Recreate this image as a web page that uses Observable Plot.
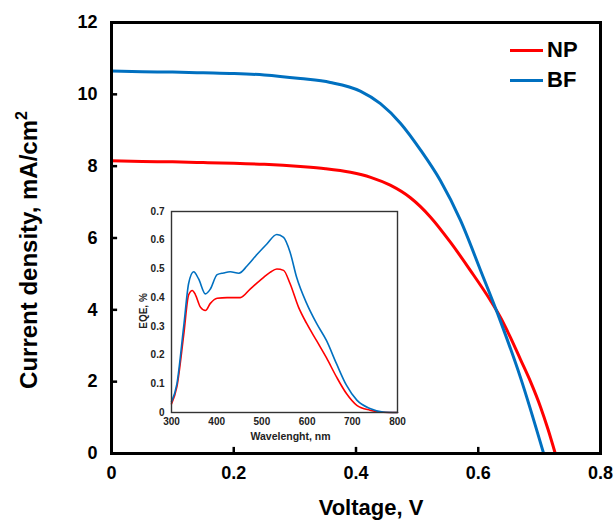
<!DOCTYPE html>
<html>
<head>
<meta charset="utf-8">
<script src="https://cdn.jsdelivr.net/npm/d3@7"></script>
<script src="https://cdn.jsdelivr.net/npm/@observablehq/plot@0.6"></script>
<style>
  html, body { margin: 0; padding: 0; background: #fff; }
  #wrap { position: relative; width: 615px; height: 524px; font-family: "Liberation Sans", Arial, sans-serif; }
  #inset { position: absolute; left: 130px; top: 200px; }
  .leg { position: absolute; font-weight: bold; font-size: 22px; line-height: 22px; color: #000; }
  .leg span.bar { display: inline-block; width: 33px; height: 3px; vertical-align: middle; margin-right: 4px; position: relative; top: -1px; }
</style>
</head>
<body>
<div id="wrap"></div>
<script>
// ---- Main J-V data ----
const seriesNames = ["NP", "BF"];
const seriesColors = ["#ff0000", "#0070c0"];
const vNP = [0, 0.05, 0.1, 0.15, 0.2, 0.25, 0.309, 0.35, 0.391, 0.424, 0.456, 0.489, 0.522, 0.555, 0.587, 0.62, 0.636, 0.653, 0.669, 0.686, 0.702, 0.714, 0.726];
const jNP = [8.15, 8.13, 8.12, 8.10, 8.08, 8.05, 7.99, 7.93, 7.83, 7.69, 7.47, 7.12, 6.58, 5.87, 5.10, 4.26, 3.80, 3.22, 2.62, 1.98, 1.29, 0.68, 0];
const vBF = [0, 0.05, 0.1, 0.15, 0.2, 0.25, 0.309, 0.358, 0.407, 0.44, 0.473, 0.506, 0.538, 0.571, 0.604, 0.636, 0.669, 0.707];
const jBF = [10.65, 10.63, 10.62, 10.60, 10.58, 10.54, 10.44, 10.33, 10.09, 9.74, 9.19, 8.44, 7.60, 6.49, 5.09, 3.70, 2.12, 0];
const xTicks = [0, 0.2, 0.4, 0.6, 0.8];
const yTicks = [0, 2, 4, 6, 8, 10, 12];

// ---- Inset EQE data ----
const wlNP = [300, 312, 327, 338, 346, 353, 364, 375, 386, 401, 423, 434, 452, 474, 496, 518, 533, 548, 562, 581, 599, 621, 643, 665, 687, 710, 739, 768, 800];
const eqeNP = [0.03, 0.09, 0.27, 0.41, 0.425, 0.41, 0.367, 0.355, 0.38, 0.398, 0.40, 0.40, 0.40, 0.43, 0.46, 0.488, 0.50, 0.495, 0.45, 0.367, 0.31, 0.25, 0.19, 0.124, 0.066, 0.025, 0.008, 0.001, 0];
const wlBF = [300, 312, 327, 338, 349, 360, 375, 386, 401, 415, 430, 449, 467, 489, 511, 533, 548, 562, 577, 599, 621, 643, 665, 687, 710, 739, 768, 800];
const eqeBF = [0.037, 0.10, 0.30, 0.45, 0.49, 0.465, 0.413, 0.43, 0.48, 0.486, 0.49, 0.485, 0.51, 0.55, 0.587, 0.62, 0.61, 0.56, 0.47, 0.38, 0.31, 0.25, 0.17, 0.095, 0.043, 0.014, 0.002, 0];
const wlTicks = [300, 400, 500, 600, 700, 800];
const eqeTicks = [0, 0.1, 0.2, 0.3, 0.4, 0.5, 0.6, 0.7];

const np = vNP.map((v, i) => ({v, j: jNP[i]}));
const bf = vBF.map((v, i) => ({v, j: jBF[i]}));
const enp = wlNP.map((w, i) => ({w, e: eqeNP[i]}));
const ebf = wlBF.map((w, i) => ({w, e: eqeBF[i]}));

const FONT = "Liberation Sans, Arial, sans-serif";

const main = Plot.plot({
  width: 615, height: 524,
  marginLeft: 111, marginRight: 15, marginTop: 22, marginBottom: 71,
  style: {fontFamily: FONT, background: "#fff", color: "#000", overflow: "visible"},
  x: {domain: [0, 0.8]},
  y: {domain: [0, 12]},
  marks: [
    Plot.axisX(xTicks, {tickSize: 0, tickPadding: 13, fontSize: 18, fontWeight: "bold", label: null, tickFormat: d => String(d)}),
    Plot.axisY(yTicks, {tickSize: 0, tickPadding: 14, fontSize: 18, fontWeight: "bold", label: null, tickFormat: d => String(d)}),
    Plot.ruleX(xTicks, {x: d => d, y1: 0, y2: 0.17, stroke: "#000", strokeWidth: 2.5}),
    Plot.ruleY(yTicks, {y: d => d, x1: 0, x2: 0.01, stroke: "#000", strokeWidth: 2.5}),
    Plot.line(np, {x: "v", y: "j", stroke: seriesColors[0], strokeWidth: 3, curve: "monotone-x"}),
    Plot.line(bf, {x: "v", y: "j", stroke: seriesColors[1], strokeWidth: 3, curve: "monotone-x"}),
    Plot.frame({stroke: "#000", strokeWidth: 3}),
    Plot.text(["Voltage, V"], {frameAnchor: "bottom", dx: 15, dy: 54, fontSize: 22, fontWeight: "bold", lineAnchor: "middle"})
  ]
});

// Rotated y-axis title
const yt = d3.select(main).append("text")
  .attr("transform", "translate(31,250) rotate(-90)")
  .attr("text-anchor", "middle")
  .attr("dominant-baseline", "middle")
  .attr("font-family", FONT)
  .attr("font-size", 24)
  .attr("font-weight", "bold")
  .attr("fill", "#000");
yt.append("tspan").text("Current density, mA/cm");
yt.append("tspan").attr("font-size", 16).attr("dy", -8).text("2");

const inset = Plot.plot({
  width: 280, height: 240,
  marginLeft: 41, marginRight: 13, marginTop: 11, marginBottom: 28,
  style: {fontFamily: FONT, background: "#fff", color: "#222", overflow: "visible"},
  x: {domain: [300, 800]},
  y: {domain: [0, 0.7]},
  marks: [
    Plot.axisX(wlTicks, {tickSize: 0, tickPadding: 5, fontSize: 10, fontWeight: "bold", label: null, tickFormat: d => String(d)}),
    Plot.axisY(eqeTicks, {tickSize: 0, tickPadding: 7, fontSize: 10, fontWeight: "bold", label: null, tickFormat: d => String(d)}),
    Plot.line(enp, {x: "w", y: "e", stroke: seriesColors[0], strokeWidth: 1.6, curve: "monotone-x"}),
    Plot.line(ebf, {x: "w", y: "e", stroke: seriesColors[1], strokeWidth: 1.6, curve: "monotone-x"}),
    Plot.frame({stroke: "#333", strokeWidth: 1.4}),
    Plot.text(["Wavelenght, nm"], {frameAnchor: "bottom", dx: 6, dy: 24, fontSize: 10.5, fontWeight: "bold", lineAnchor: "middle", fill: "#222"})
  ]
});
inset.id = "inset";
d3.select(inset).append("text")
  .attr("transform", "translate(14,111) rotate(-90)")
  .attr("text-anchor", "middle")
  .attr("dominant-baseline", "middle")
  .attr("font-family", FONT)
  .attr("font-size", 10)
  .attr("font-weight", "bold")
  .attr("fill", "#222")
  .text("EQE, %");

const wrap = document.getElementById("wrap");
wrap.appendChild(main);
wrap.appendChild(inset);

// Legend
const legTops = [39, 69];
seriesNames.forEach((name, i) => {
  const d = document.createElement("div");
  d.className = "leg";
  d.style.left = "510px";
  d.style.top = legTops[i] + "px";
  d.innerHTML = `<span class="bar" style="background:${seriesColors[i]}"></span>${name}`;
  wrap.appendChild(d);
});
</script>
</body>
</html>
